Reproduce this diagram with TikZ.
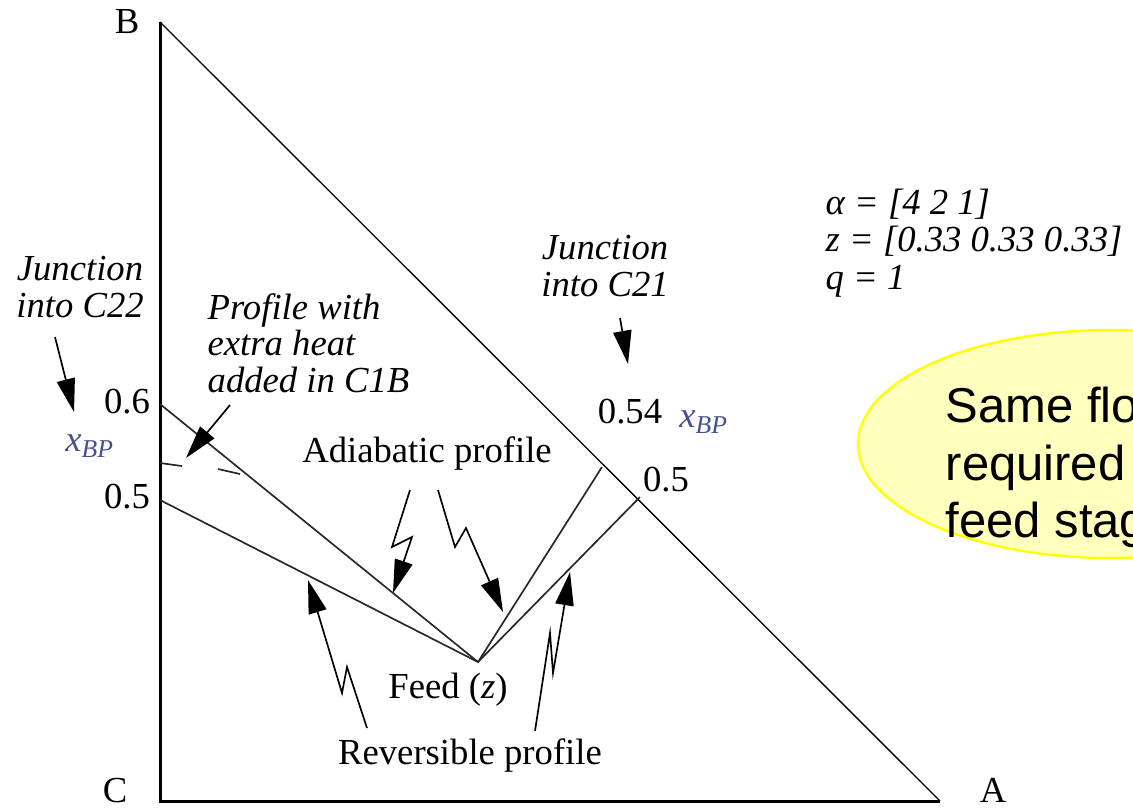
\documentclass[tikz,border=0pt]{standalone}
\usepackage{fontspec}
\setmainfont{Liberation Serif}
\setsansfont{Liberation Sans}
\usetikzlibrary{arrows.meta}
\definecolor{bubble}{RGB}{255,255,190}
\definecolor{bubbleedge}{RGB}{255,255,0}
\definecolor{xbp}{RGB}{70,80,140}
\tikzset{
  profile/.style={line width=0.5pt, black!85},
  pointer/.style={line width=0.5pt, -{Triangle[length=10pt,width=5.5pt]}},
  lbl/.style={inner sep=0pt, font=\fontsize{11}{11}\selectfont},
  ilbl/.style={inner sep=0pt, align=center, font=\fontsize{11}{11}\selectfont\itshape},
  xlbl/.style={inner sep=0pt, text=xbp, font=\fontsize{11}{11}\selectfont\itshape},
  bubbletext/.style={inner sep=0pt, anchor=base west, font=\sffamily\fontsize{14.7}{17}\selectfont},
}
\newcommand{\xbp}{x\textsubscript{BP}}

\begin{document}
\begin{tikzpicture}[x=0.3pt,y=-0.3pt]
\clip (0,0) rectangle (1133,809);
% corners of the triangle
\coordinate (B) at (160,22);
\coordinate (C) at (160,801);
\coordinate (A) at (940,801);
\draw[line width=0.9pt] (B) -- (C) -- (A);
\draw[line width=0.4pt] (B) -- (A);
\node[lbl] (labB) at (127,22) {B};
\node[lbl] (labC) at (115,791) {C};
\node[lbl] (labA) at (993,790) {A};

% profiles
\coordinate (feed) at (478,662);
\coordinate (revL) at (160,500);
\coordinate (revR) at (640,497);
\coordinate (adiL) at (160,404);
\coordinate (adiR) at (602,467);
\draw[profile] (revL) -- (feed) -- (revR);
\draw[profile] (adiL) -- (feed) -- (adiR);
% extra heat bits
\draw[profile] (160,463) -- (182,466);
\draw[profile] (218,469) -- (240,474);

% values on the axes
\node[lbl] (v06) at (127,402) {0.6};
\node[lbl] (v05) at (127,497) {0.5};
\node[lbl] (v054) at (630,412) {0.54};
\node[lbl] (v05r) at (666,480) {0.5};
\node[xlbl] (xl) at (90,446) {\xbp};
\node[xlbl] (xr) at (704,422) {\xbp};

% labels
\node[lbl] (adi) at (427,453) {Adiabatic profile};
\node[lbl] (feedlab) at (448,690) {Feed (\textit{z})};
\node[lbl] (rev) at (470,755) {Reversible profile};
\node[ilbl] (j22) at (80,287) {Junction\\into C22};
\node[ilbl, align=left, anchor=west] (heat) at (207,343) {Profile with\\extra heat\\added in C1B};
\node[ilbl] (j21) at (605,266) {Junction\\into C21};
\node[ilbl, align=left, anchor=west, font=\fontsize{11}{11.2}\selectfont\itshape] (par) at (825,243)
  {α = [4 2 1]\\z = [0.33 0.33 0.33]\\q = 1};

% pointers
\coordinate (p22a) at (55,337);   \coordinate (p22b) at (74,412);
\coordinate (p21a) at (620,318);  \coordinate (p21b) at (628,364);
\coordinate (pha) at (230,405);   \coordinate (phb) at (186,458);
\draw[pointer] (p22a) -- (p22b);
\draw[pointer] (p21a) -- (p21b);
\draw[pointer] (pha) -- (phb);
\draw[pointer] (410,490) -- (392,547) -- (412,537) -- (393,593);
\draw[pointer] (438,490) -- (455,547) -- (466,528) -- (503,612);
\draw[pointer] (367,728) -- (347,667) -- (342,693) -- (308,580);
\draw[pointer] (535,731) -- (550,633) -- (553,673) -- (570,572);

% note
\draw[bubbleedge, fill=bubble, line width=0.7pt] (1110,444) ellipse [x radius=252, y radius=114];
\node[bubbletext] (n1) at (945,422) {Same flo};
\node[bubbletext] (n2) at (945,480) {required};
\node[bubbletext] (n3) at (945,537) {feed stag};
\end{tikzpicture}
\end{document}
